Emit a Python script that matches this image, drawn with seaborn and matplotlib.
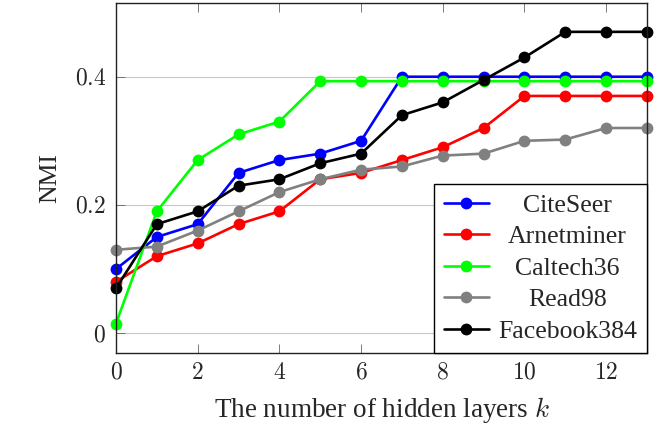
import matplotlib
matplotlib.use("Agg")
import matplotlib.pyplot as plt
import seaborn as sns
import pandas as pd

layers = list(range(14))
citeseer = [0.10, 0.15, 0.17, 0.25, 0.27, 0.28, 0.30, 0.40, 0.40, 0.40, 0.40, 0.40, 0.40, 0.40]
arnetminer = [0.08, 0.12, 0.14, 0.17, 0.19, 0.24, 0.25, 0.27, 0.29, 0.32, 0.37, 0.37, 0.37, 0.37]
caltech36 = [0.015, 0.19, 0.27, 0.31, 0.33, 0.393, 0.393, 0.393, 0.393, 0.393, 0.393, 0.393, 0.393, 0.393]
read98 = [0.13, 0.135, 0.16, 0.19, 0.22, 0.24, 0.255, 0.26, 0.277, 0.28, 0.30, 0.302, 0.32, 0.32]
facebook384 = [0.07, 0.17, 0.19, 0.23, 0.24, 0.265, 0.28, 0.34, 0.36, 0.395, 0.43, 0.47, 0.47, 0.47]

names = ["CiteSeer", "Arnetminer", "Caltech36", "Read98", "Facebook384"]
series = [citeseer, arnetminer, caltech36, read98, facebook384]
colors = ["#0000ff", "#ff0000", "#00ff00", "#808080", "#000000"]

xticks = [0, 2, 4, 6, 8, 10, 12]
yticks = [0, 0.2, 0.4]
ytick_labels = ["0", "0.2", "0.4"]

rows = []
for n, s in zip(names, series):
    for x, v in zip(layers, s):
        rows.append({"k": x, "NMI": v, "dataset": n})
df = pd.DataFrame(rows)

sns.set_style("ticks")
plt.rcParams["font.family"] = ["Liberation Serif", "DejaVu Serif"]
plt.rcParams["mathtext.fontset"] = "cm"

fig = plt.figure(figsize=(6.59, 4.25), dpi=100)
ax = fig.add_axes([116 / 659, (425 - 353) / 425, (647 - 116) / 659, (353 - 3) / 425])

sns.lineplot(data=df, x="k", y="NMI", hue="dataset", hue_order=names,
             palette=dict(zip(names, colors)), marker="o", markersize=8.5,
             markeredgewidth=0, linewidth=1.9, ax=ax)
for ln in ax.get_lines():
    ln.set_clip_on(False)

ax.set_xlim(0, 13)
ax.set_ylim(-0.031, 0.515)
ax.set_xticks(xticks)
ax.set_xticklabels([f"${t}$" for t in xticks])
ax.set_yticks(yticks)
ax.set_yticklabels([f"${t}$" for t in ytick_labels])
ax.yaxis.grid(True, color="#c8c8c8", linewidth=0.8)
ax.set_axisbelow(True)
ax.tick_params(direction="in", top=True, right=True, labelsize=17, length=6.5,
               width=0.6, color="#666666")
ax.tick_params(axis="x", pad=7)
ax.tick_params(axis="y", pad=7)
for sp in ax.spines.values():
    sp.set_visible(True)
    sp.set_linewidth(1.0)
    sp.set_color("#222222")
ax.set_xlabel("The number of hidden layers $k$", fontsize=19.5, labelpad=8)
ax.set_ylabel("NMI", fontsize=18.5, labelpad=10)

leg = ax.legend(loc="lower right", borderaxespad=0, fontsize=18.5, frameon=True,
                fancybox=False, edgecolor="black", framealpha=1,
                handlelength=1.75, handletextpad=0.35, borderpad=0.4, labelspacing=0.33)
leg.get_frame().set_linewidth(1.0)
leg.set_zorder(10)
fig.canvas.draw()
w = max(t.get_window_extent().width for t in leg.get_texts())
for t in leg.get_texts():
    t.set_position((w / 2 - t.get_window_extent().width / 2, 0))

fig.savefig("out.png", dpi=100)
